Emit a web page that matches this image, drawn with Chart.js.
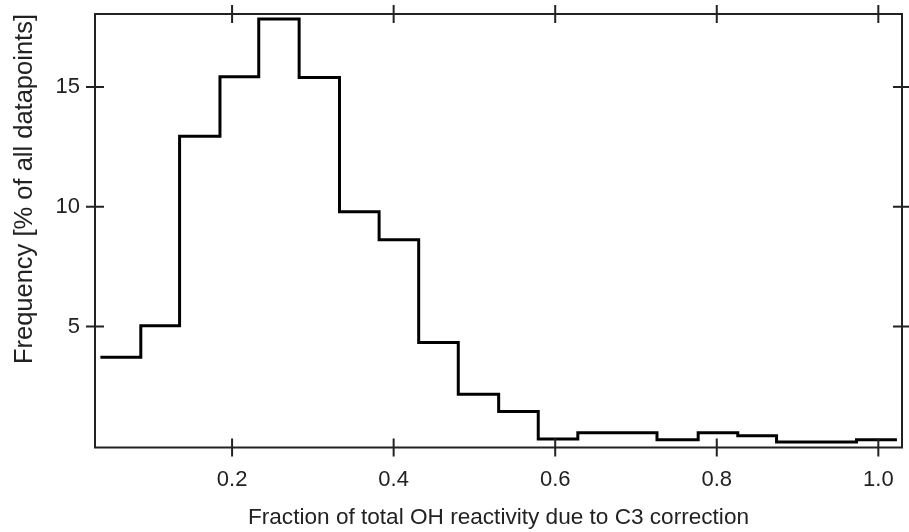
<!DOCTYPE html>
<html>
<head>
<meta charset="utf-8">
<title>Fraction of total OH reactivity due to C3 correction</title>
<script src="https://cdn.jsdelivr.net/npm/chart.js@4/dist/chart.umd.min.js"></script>
<style>
    html, body { margin: 0; padding: 0; background: #fff; }
    #mycanvas { display: block; }
</style>
</head>
<body>
<canvas id="mycanvas" width="909" height="532"></canvas>
<script>
// bin edges (fraction) and frequency per bin (% of all datapoints)
var binEdges = [0.037, 0.087, 0.135, 0.185, 0.233, 0.283, 0.333, 0.382, 0.431, 0.480,
                0.530, 0.579, 0.628, 0.678, 0.726, 0.777, 0.826, 0.874, 0.924, 0.973, 1.023];
var frequency = [3.72, 5.03, 12.95, 15.43, 17.84, 15.40, 9.79, 8.62, 4.33, 2.17,
                 1.45, 0.31, 0.57, 0.57, 0.27, 0.57, 0.44, 0.18, 0.18, 0.27];
var xTicks = [0.2, 0.4, 0.6, 0.8, 1.0];
var yTicks = [5, 10, 15];

var textColor = '#222';
var fontFamily = '"Liberation Sans", Arial, sans-serif';

var points = [];
for (var i = 0; i < frequency.length; i++) {
    points.push({x: binEdges[i], y: frequency[i]});
}
// hold last bin to its right edge
points.push({x: binEdges[binEdges.length - 1], y: frequency[frequency.length - 1]});

// box frame with ticks crossing the frame on all four sides
var frameTicks = {
    id: 'frameTicks',
    afterDraw: function(chart) {
        var ctx = chart.ctx;
        var a = chart.chartArea;
        var xs = chart.scales.x;
        var ys = chart.scales.y;
        var len = 9;
        ctx.save();
        ctx.strokeStyle = '#222';
        ctx.lineWidth = 2;
        ctx.lineCap = 'butt';
        ctx.beginPath();
        ctx.rect(a.left, a.top, a.right - a.left, a.bottom - a.top);
        for (var i = 0; i < xTicks.length; i++) {
            var px = xs.getPixelForValue(xTicks[i]);
            ctx.moveTo(px, a.bottom - len);
            ctx.lineTo(px, a.bottom + len);
            ctx.moveTo(px, a.top - len);
            ctx.lineTo(px, a.top + len);
        }
        for (var j = 0; j < yTicks.length; j++) {
            var py = ys.getPixelForValue(yTicks[j]);
            ctx.moveTo(a.left - len, py);
            ctx.lineTo(a.left + len, py);
            ctx.moveTo(a.right - len, py);
            ctx.lineTo(a.right + len, py);
        }
        ctx.stroke();
        ctx.restore();
    }
};

var ctx = document.getElementById('mycanvas');

var histChart = new Chart(ctx, {
    type: 'line',
    data: {
        datasets: [
            {
                label: 'Frequency',
                data: points,
                stepped: 'before',
                borderColor: '#000',
                borderWidth: 3,
                pointRadius: 0,
                fill: false
            }
        ]
    },
    options: {
        responsive: false,
        animation: false,
        devicePixelRatio: 1,
        layout: {
            padding: {top: 14, right: 7, left: 0, bottom: 0}
        },
        plugins: {
            legend: {display: false},
            tooltip: {enabled: false}
        },
        scales: {
            x: {
                type: 'linear',
                min: 0.0303,
                max: 1.0293,
                grid: {display: false, drawTicks: false},
                border: {display: false},
                afterBuildTicks: function(scale) {
                    scale.ticks = xTicks.map(function(v) { return {value: v}; });
                },
                afterFit: function(scale) {
                    scale.height = 84.5;
                    scale.paddingLeft = 0;
                    scale.paddingRight = 0;
                },
                ticks: {
                    color: textColor,
                    padding: 19,
                    maxRotation: 0,
                    font: {family: fontFamily, size: 22},
                    callback: function(v) { return v.toFixed(1); }
                },
                title: {
                    display: true,
                    text: 'Fraction of total OH reactivity due to C3 correction',
                    color: textColor,
                    font: {family: fontFamily, size: 22.6},
                    padding: {top: 0, bottom: 1}
                }
            },
            y: {
                min: -0.05,
                max: 18.05,
                grid: {display: false, drawTicks: false},
                border: {display: false},
                afterBuildTicks: function(scale) {
                    scale.ticks = yTicks.map(function(v) { return {value: v}; });
                },
                afterFit: function(scale) {
                    scale.width = 95;
                    scale.paddingTop = 0;
                    scale.paddingBottom = 0;
                },
                ticks: {
                    color: textColor,
                    padding: 15,
                    font: {family: fontFamily, size: 22}
                },
                title: {
                    display: true,
                    text: 'Frequency [% of all datapoints]',
                    align: 'end',
                    color: textColor,
                    font: {family: fontFamily, size: 25.5},
                    padding: {top: 10, bottom: 0}
                }
            }
        }
    },
    plugins: [frameTicks]
});
</script>
</body>
</html>
